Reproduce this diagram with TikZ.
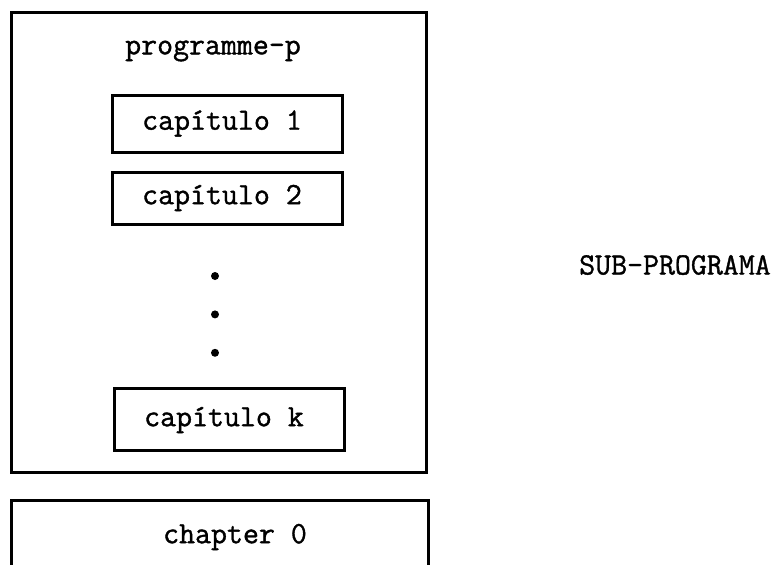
\documentclass[tikz,border=0pt]{standalone}
\usepackage{fontspec}
\newfontfamily\typewriter[FakeBold=1.2]{Latin Modern Mono}
\usepackage{tikz}
\usetikzlibrary{positioning}
\tikzstyle{frame} = [rectangle, draw=black, line width=3pt, inner sep=0pt]
\tikzstyle{capbox} = [rectangle, draw=black, line width=3pt, minimum width=230pt, text centered, inner sep=0pt]
\tikzstyle{caption} = [font=\typewriter\fontsize{31}{34}\selectfont, inner sep=0pt]
\tikzstyle{dot} = [circle, fill=black, minimum size=8pt, inner sep=0pt]

\begin{document}
\begin{tikzpicture}[x=1pt, y=-1pt]
        \useasboundingbox (0,0) rectangle (780,565);
        \node (programme) [frame, minimum width=415pt, minimum height=460pt] at (218.5,242) {};
        \node (title) [caption] at (213,51) {programme-p};
        \node (cap1) [capbox, minimum height=57pt] at (227,123.5) {};
        \node (cap2) [capbox, minimum height=52pt] at (227.5,198) {};
        \node (capk) [capbox, minimum height=62pt] at (229.5,419) {};
        \node (cap1text) [caption] at (222,123.5) {capítulo 1};
        \node (cap2text) [caption] at (222,198) {capítulo 2};
        \node (capktext) [caption] at (224,420) {capítulo k};
        \node (dot1) [dot] at (215,276) {};
        \node (dot2) [dot, below=30pt of dot1] {};
        \node (dot3) [dot, below=30pt of dot2] {};

        \node (chapter) [frame, minimum width=417pt, minimum height=120pt] at (219.5,560) {};
        \node (chaptertext) [caption] at (235,537) {chapter 0};

        \node (sub) [caption] at (675,265) {SUB-PROGRAMA};
\end{tikzpicture}
\end{document}
